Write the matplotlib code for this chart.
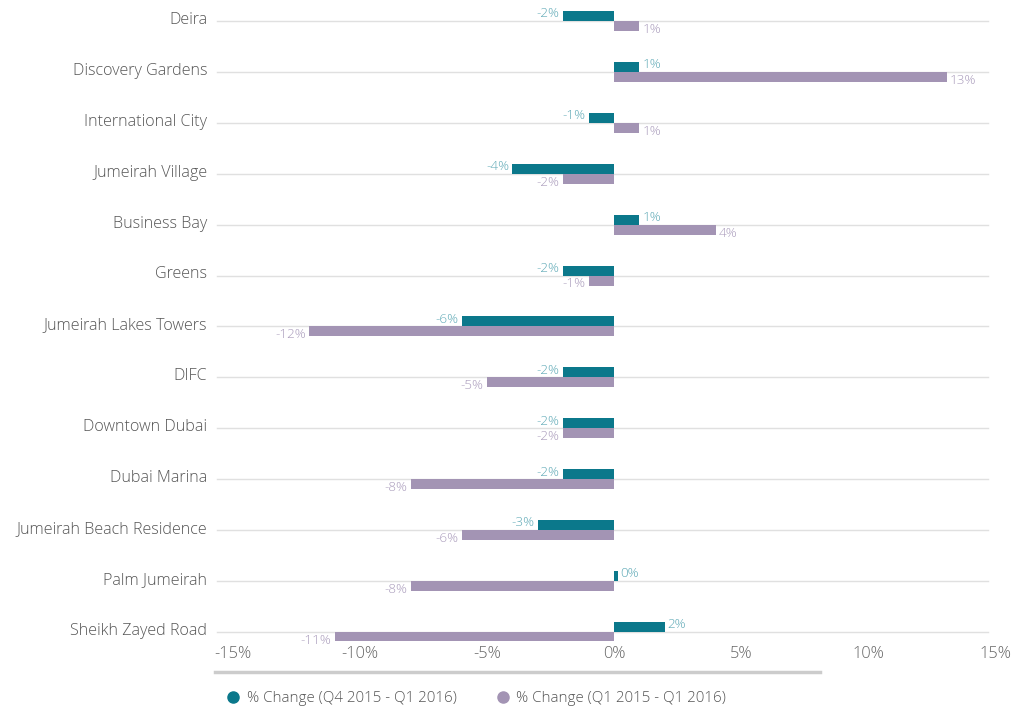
import matplotlib
matplotlib.use("Agg")
import matplotlib.pyplot as plt
import matplotlib.transforms as mtransforms
from matplotlib.lines import Line2D

plt.rcParams['font.family'] = ['Open Sans', 'DejaVu Sans']
plt.rcParams['font.weight'] = 'light'

categories = ["Deira", "Discovery Gardens", "International City", "Jumeirah Village",
              "Business Bay", "Greens", "Jumeirah Lakes Towers", "DIFC", "Downtown Dubai",
              "Dubai Marina", "Jumeirah Beach Residence", "Palm Jumeirah", "Sheikh Zayed Road"]
q4_q1 = [-2, 1, -1, -4, 1, -2, -6, -2, -2, -2, -3, 0.15, 2]
q4_q1_labels = ["-2%", "1%", "-1%", "-4%", "1%", "-2%", "-6%", "-2%", "-2%", "-2%", "-3%", "0%", "2%"]
q1_q1 = [1, 13.1, 1, -2, 4, -1, -12, -5, -2, -8, -6, -8, -11]
q1_q1_labels = ["1%", "13%", "1%", "-2%", "4%", "-1%", "-12%", "-5%", "-2%", "-8%", "-6%", "-8%", "-11%"]
xticks = [-15, -10, -5, 0, 5, 10, 15]
xtick_labels = ["-15%", "-10%", "-5%", "0%", "5%", "10%", "15%"]
series_names = ["% Change (Q4 2015 - Q1 2016)", "% Change (Q1 2015 - Q1 2016)"]

TEAL = "#0b788b"
PURPLE = "#a394b4"
TEAL_TXT = "#5ea9b6"
PURPLE_TXT = "#a99bbb"

W, H = 1036, 725
fig = plt.figure(figsize=(W / 100, H / 100), dpi=100)
ax_left, ax_right = 233, 995
ax_top, ax_bottom = 0, 641
ax = fig.add_axes([ax_left / W, 1 - ax_bottom / H, (ax_right - ax_left) / W, (ax_bottom - ax_top) / H])

step = 50.9
y0 = 21
ax.set_xlim(-15, 15)
ax.set_ylim((ax_bottom - y0) / step, (ax_top - y0) / step)

n = len(categories)
ys = list(range(n))
bh = 10 / step

# gridlines
trans = mtransforms.blended_transform_factory(fig.transFigure, ax.transData)
for y in ys:
    ax.add_line(Line2D([217 / W, 988 / W], [y, y], transform=trans, color="#e0e0e0",
                       lw=1, zorder=0, clip_on=False))

ax.barh([y - bh / 2 for y in ys], q4_q1, height=bh, color=TEAL, zorder=2)
ax.barh([y + bh / 2 for y in ys], q1_q1, height=bh, color=PURPLE, zorder=2)

VFS = 9.7
for y, v, lab in zip(ys, q4_q1, q4_q1_labels):
    if v < 0:
        ax.annotate(lab, (v, y - bh / 2), xytext=(-2.5, 1.5), textcoords="offset points",
                    ha="right", va="center", fontsize=VFS, color=TEAL_TXT)
    else:
        ax.annotate(lab, (v, y - bh / 2), xytext=(2, 1.5), textcoords="offset points",
                    ha="left", va="center", fontsize=VFS, color=TEAL_TXT)
for y, v, lab in zip(ys, q1_q1, q1_q1_labels):
    if v < 0:
        ax.annotate(lab, (v, y + bh / 2), xytext=(-2.5, -2.5), textcoords="offset points",
                    ha="right", va="center", fontsize=VFS, color=PURPLE_TXT)
    else:
        ax.annotate(lab, (v, y + bh / 2), xytext=(2, -2.5), textcoords="offset points",
                    ha="left", va="center", fontsize=VFS, color=PURPLE_TXT)

ax.set_yticks(ys)
ax.set_yticklabels(categories, fontsize=11.6, color="#555555")
ax.set_xticks(xticks)
ax.set_xticklabels(xtick_labels, fontsize=11.8, color="#666666")
ax.tick_params(axis="y", length=0, pad=18.5)
ax.tick_params(axis="x", length=0, pad=3.5)
shift = mtransforms.ScaledTranslation(0, 3 / 100, fig.dpi_scale_trans)
for lbl in ax.get_yticklabels():
    lbl.set_transform(lbl.get_transform() + shift)
for s in ax.spines.values():
    s.set_visible(False)

# scrollbar-like line
fig.add_artist(Line2D([215 / W, 820 / W], [1 - 672 / H, 1 - 672 / H], transform=fig.transFigure,
                      color="#cccccc", lw=2.5))

handles = [Line2D([], [], marker="o", ls="", color=TEAL, markersize=8),
           Line2D([], [], marker="o", ls="", color=PURPLE, markersize=8)]
leg = fig.legend(handles, series_names, loc="center left", bbox_to_anchor=(218 / W, 1 - 699 / H),
                 ncol=2, frameon=False, fontsize=10.9, handletextpad=0.3, columnspacing=2.45,
                 handlelength=1.2, borderaxespad=0)
for t in leg.get_texts():
    t.set_color("#555555")

fig.savefig("out.png", dpi=100)
